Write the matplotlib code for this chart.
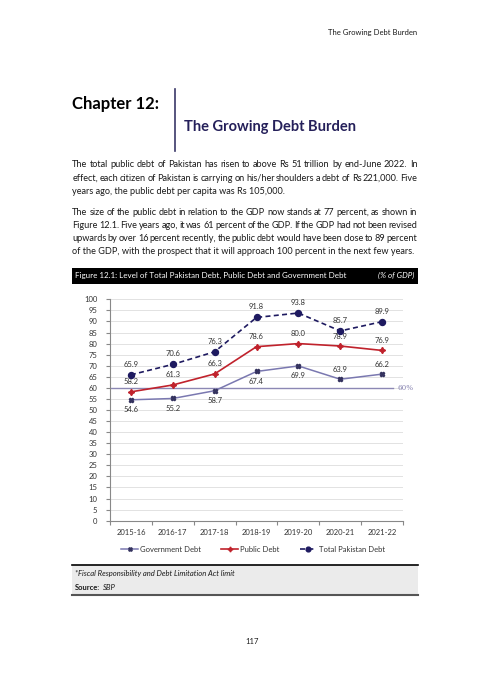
import matplotlib
matplotlib.use("Agg")
import matplotlib.pyplot as plt
from matplotlib.patches import Rectangle
from matplotlib.lines import Line2D

plt.rcParams['font.family'] = ['Lato', 'DejaVu Sans']

# data
years = ["2015-16", "2016-17", "2017-18", "2018-19", "2019-20", "2020-21", "2021-22"]
govt_debt = [54.6, 55.2, 58.7, 67.4, 69.9, 63.9, 66.2]
public_debt = [58.2, 61.3, 66.3, 78.6, 80.0, 78.9, 76.9]
total_debt = [65.9, 70.6, 76.3, 91.8, 93.8, 85.7, 89.9]
frdla_limit = 60
y_ticks = list(range(0, 101, 5))

para1 = [
    "The total public debt of Pakistan has risen to above Rs 51 trillion by end-June 2022. In",
    "effect, each citizen of Pakistan is carrying on his/her shoulders a debt of Rs 221,000. Five",
    "years ago, the public debt per capita was Rs 105,000.",
]
para2 = [
    "The size of the public debt in relation to the GDP now stands at 77 percent, as shown in",
    "Figure 12.1. Five years ago, it was 61 percent of the GDP. If the GDP had not been revised",
    "upwards by over 16 percent recently, the public debt would have been close to 89 percent",
    "of the GDP, with the prospect that it will approach 100 percent in the next few years.",
]

W, H = 504, 684
fig = plt.figure(figsize=(W / 100, H / 100), dpi=100)
fig.patch.set_facecolor("white")


def fx(x):
    return x / W


def fy(y):
    return 1 - y / H


navy = "#25205a"
txt = "#1a1a1a"

# page header
fig.text(fx(417), fy(32), "The Growing Debt Burden", ha="right", va="center", fontsize=5.5, color=txt)
fig.text(fx(72), fy(104), "Chapter 12:", ha="left", va="center", fontsize=12, fontweight="bold", color="black")
fig.add_artist(Line2D([fx(175), fx(175)], [fy(89), fy(151)], color="#3a3768", lw=1.2))
fig.text(fx(184), fy(127.5), "The Growing Debt Burden", ha="left", va="center", fontsize=10.5,
         fontweight="bold", color=navy)

# body text, justified by spreading the words
renderer = fig.canvas.get_renderer()


def put_line(s, y, justify, size=6.6):
    x0, x1 = 72.3, 417.3
    if not justify:
        fig.text(fx(x0), fy(y), s, ha="left", va="center", fontsize=size, color=txt)
        return
    words = s.split()
    ts = [fig.text(0, fy(y), w, ha="left", va="center", fontsize=size, color=txt) for w in words]
    widths = [t.get_window_extent(renderer).width for t in ts]
    gap = (x1 - x0 - sum(widths)) / (len(words) - 1)
    x = x0
    for t, w in zip(ts, widths):
        t.set_x(fx(x))
        x += w + gap


for i, line in enumerate(para1):
    put_line(line, 164.7 + 13.3 * i, i < len(para1) - 1)
for i, line in enumerate(para2):
    put_line(line, 212.3 + 13.1 * i, i < len(para2) - 1)

# figure title bar
fig.add_artist(Rectangle((fx(72), fy(283.5)), (418 - 72) / W, 15.5 / H, transform=fig.transFigure,
                         facecolor="black", edgecolor="none"))
fig.text(fx(75), fy(275.7), "Figure 12.1: Level of Total Pakistan Debt, Public Debt and Government Debt",
         ha="left", va="center", fontsize=5.8, color="white")
fig.text(fx(414), fy(275.7), "(% of GDP)", ha="right", va="center", fontsize=5.8, color="white", style="italic")

# chart
ax = fig.add_axes([fx(110), fy(520.7), (403 - 110) / W, (520.7 - 299.3) / H])
x = list(range(len(years)))

ax.plot(x, govt_debt, color="#7a78b0", lw=1.1, marker="X", ms=3.2, mfc="#34325e", mec="#34325e",
        label="Government Debt", zorder=3)
ax.plot(x, public_debt, color="#c0222c", lw=1.2, marker=(4, 1, 0), ms=4.5, mfc="#c0222c", mec="#c0222c",
        label="Public Debt", zorder=3)
ax.plot(x, total_debt, color="#1e1a60", lw=1.2, ls=(0, (3, 2)), marker="o", ms=4.3, mfc="#1e1a60",
        mec="#1e1a60", label="Total Pakistan Debt", zorder=4)

ax.plot([-0.5, 6.25], [frdla_limit, frdla_limit], color="#8c88b4", lw=1.0, zorder=2)
ax.text(6.55, frdla_limit, "60%", ha="center", va="center", fontsize=5.2, color="#8c88b4",
        family="DejaVu Serif", clip_on=False)

lab = dict(ha="center", va="center", fontsize=5.5, color="#333333", textcoords="offset pixels")
for i in x:
    ax.annotate(f"{total_debt[i]:.1f}", (i, total_debt[i]), xytext=(0, 10.5), **lab)
    ax.annotate(f"{public_debt[i]:.1f}", (i, public_debt[i]), xytext=(0, 10), **lab)
    dy = 10 if i >= 5 else -10
    ax.annotate(f"{govt_debt[i]:.1f}", (i, govt_debt[i]), xytext=(0, dy), **lab)

ax.set_xlim(-0.5, len(years) - 0.5)
ax.set_ylim(0, 100)
ax.set_yticks(y_ticks)
ax.set_xticks([i - 0.5 for i in range(len(years) + 1)])
ax.set_xticklabels([])
ax.set_xticks(x, minor=True)
ax.set_xticklabels(years, minor=True)
ax.tick_params(axis="x", which="minor", length=0, labelsize=5.5, pad=6, colors="#333333")
ax.tick_params(axis="x", which="major", length=3, color="#888888", direction="out")
ax.tick_params(axis="y", length=3, color="#888888", labelsize=5.5, pad=6, labelcolor="#333333")
for lbl in ax.get_xticklabels(minor=True):
    lbl.set_color("#333333")
ax.grid(axis="y", color="#dddddd", lw=0.6)
ax.set_axisbelow(True)
for side in ["top", "right"]:
    ax.spines[side].set_visible(False)
ax.spines["left"].set_color("#888888")
ax.spines["bottom"].set_color("#888888")
ax.spines["left"].set_linewidth(0.8)
ax.spines["bottom"].set_linewidth(0.8)

fig.legend(loc="center", bbox_to_anchor=(fx(253), fy(549)), ncol=3, frameon=False, fontsize=5.5,
           handlelength=2.2, columnspacing=2.6, handletextpad=0.3, markerscale=0.8, labelcolor="#333333")

# footer box
fig.add_artist(Rectangle((fx(72), fy(595)), (418 - 72) / W, 30 / H, transform=fig.transFigure,
                         facecolor="#ebebeb", edgecolor="none"))
fig.add_artist(Line2D([fx(72), fx(418)], [fy(565), fy(565)], color="black", lw=1.2))
fig.add_artist(Line2D([fx(72), fx(418)], [fy(595), fy(595)], color="#555555", lw=1.5))
fig.text(fx(75), fy(573.5), "*Fiscal Responsibility and Debt Limitation Act limit", ha="left", va="center",
         fontsize=5.5, style="italic", color=txt)
src = fig.text(fx(75), fy(587.5), "Source:", ha="left", va="center", fontsize=5.5, fontweight="bold", color=txt)
sw = src.get_window_extent(renderer).width
fig.text(fx(75 + sw + 3), fy(587.5), "SBP", ha="left", va="center", fontsize=5.5, style="italic", color=txt)

fig.text(fx(252), fy(642), "117", ha="center", va="center", fontsize=5.5, color=txt)

fig.savefig("out.png", dpi=100)
